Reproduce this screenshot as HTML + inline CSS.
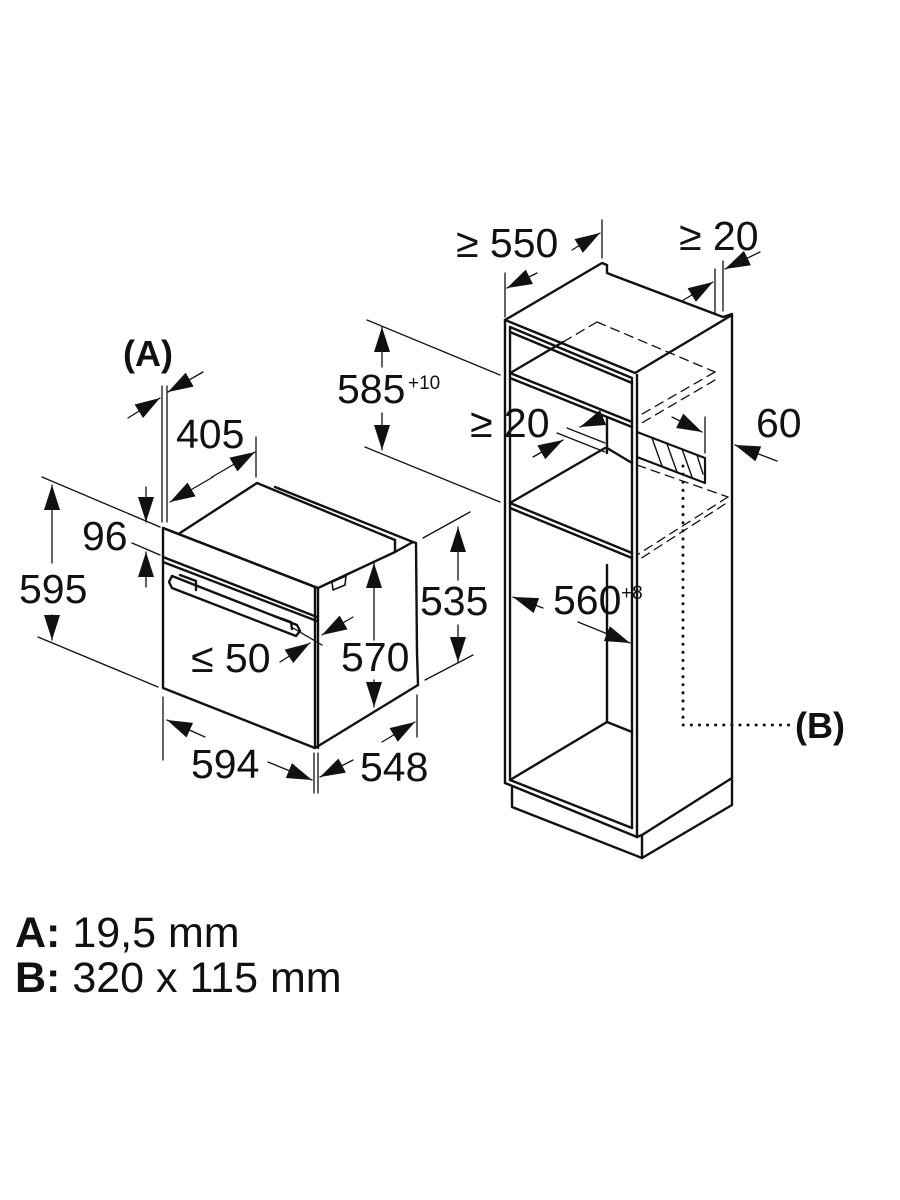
<!DOCTYPE html>
<html><head><meta charset="utf-8"><style>
html,body{margin:0;padding:0;background:#fff;}
svg{display:block;}
text{font-family:"Liberation Sans",sans-serif;fill:#111;}
</style></head><body>
<svg width="900" height="1200" viewBox="0 0 900 1200" xmlns="http://www.w3.org/2000/svg">
<defs>
<marker id="ah" markerUnits="userSpaceOnUse" markerWidth="28" markerHeight="18" refX="25" refY="8" orient="auto">
<path d="M0,0 L25,8 L0,16 Z" fill="#111"/>
</marker>
</defs>
<g stroke="#111" fill="none" stroke-linecap="round" stroke-linejoin="round">

<!-- ================= OVEN ================= -->
<g stroke-width="2.4">
<path d="M163,528 L163,688 L315,748 L315,587 Z"/>
<line x1="318" y1="588" x2="318" y2="748"/>
<line x1="163" y1="528" x2="318" y2="588"/>
<path d="M180,533 L257,483 L395,540"/>
<path d="M275,487 L413,542"/>
<path d="M395,540 L395,552 L413,542"/>
<path d="M318,588 L395,552"/>
<path d="M413,542 L416,543 L417,653 L418,685 L315,748"/>
<line x1="163" y1="557" x2="317" y2="617"/>
<line x1="163" y1="562" x2="317" y2="621"/>
<path d="M172,576 L297,625 L300,631 L296,636 L172,588 L169,582 Z"/>
<path d="M180,575 L196,581 L196,590"/>
<path d="M274,616 L291,622 L292,629"/>
<path d="M332,582 L346,576 L345,585 L333,590 Z" stroke-width="1.6"/>
</g>

<g stroke-width="1.3">
<line x1="162" y1="386" x2="162" y2="522"/>
<line x1="167" y1="386" x2="167" y2="522"/>
<line x1="203" y1="372" x2="168" y2="392" marker-end="url(#ah)"/>
<line x1="128" y1="418" x2="160" y2="398" marker-end="url(#ah)"/>
<line x1="256" y1="437" x2="256" y2="477"/>
<line x1="212" y1="477" x2="255" y2="452" marker-end="url(#ah)"/>
<line x1="213" y1="477" x2="170" y2="502" marker-end="url(#ah)"/>
<line x1="42" y1="477" x2="160" y2="527"/>
<line x1="38" y1="637" x2="158" y2="687"/>
<line x1="52" y1="563" x2="52" y2="485" marker-end="url(#ah)"/>
<line x1="52" y1="615" x2="52" y2="640" marker-end="url(#ah)"/>
<line x1="132" y1="543" x2="160" y2="555"/>
<line x1="146" y1="487" x2="146" y2="522" marker-end="url(#ah)"/>
<line x1="146" y1="587" x2="146" y2="552" marker-end="url(#ah)"/>
<line x1="293" y1="628" x2="322" y2="645"/>
<line x1="280" y1="662" x2="310" y2="643" marker-end="url(#ah)"/>
<line x1="353" y1="617" x2="322" y2="635" marker-end="url(#ah)"/>
<line x1="374" y1="640" x2="374" y2="563" marker-end="url(#ah)"/>
<line x1="374" y1="680" x2="374" y2="707" marker-end="url(#ah)"/>
<line x1="423" y1="538" x2="470" y2="512"/>
<line x1="425" y1="680" x2="473" y2="655"/>
<line x1="458" y1="580" x2="458" y2="527" marker-end="url(#ah)"/>
<line x1="458" y1="625" x2="458" y2="662" marker-end="url(#ah)"/>
<line x1="163" y1="697" x2="163" y2="760"/>
<line x1="314" y1="753" x2="314" y2="793"/>
<line x1="318" y1="753" x2="318" y2="793"/>
<line x1="205" y1="737" x2="167" y2="720" marker-end="url(#ah)"/>
<line x1="268" y1="762" x2="312" y2="780" marker-end="url(#ah)"/>
<line x1="417" y1="695" x2="417" y2="737"/>
<line x1="382" y1="742" x2="415" y2="722" marker-end="url(#ah)"/>
<line x1="353" y1="760" x2="320" y2="777" marker-end="url(#ah)"/>
<line x1="367" y1="320" x2="500" y2="375"/>
<line x1="365" y1="447" x2="500" y2="502"/>
<line x1="382" y1="367" x2="382" y2="327" marker-end="url(#ah)"/>
<line x1="382" y1="413" x2="382" y2="450" marker-end="url(#ah)"/>
</g>

<!-- ================= CABINET ================= -->
<g stroke-width="2.4">
<path d="M505,320 L602,263 L607,265 L607,273 L612,275 L723,317 L732,314"/>
<path d="M505,320 L635,373 L732,315"/>
<line x1="505" y1="320" x2="505" y2="783"/>
<line x1="510" y1="327" x2="510" y2="780"/>
<line x1="632" y1="380" x2="632" y2="828"/>
<line x1="637" y1="375" x2="637" y2="837"/>
<line x1="732" y1="315" x2="732" y2="805"/>
<line x1="510" y1="327" x2="632" y2="378"/>
<line x1="510" y1="332" x2="632" y2="383"/>
<line x1="512" y1="372" x2="563" y2="342"/>
<line x1="510" y1="373" x2="632" y2="422"/>
<line x1="510" y1="378" x2="632" y2="427"/>
<line x1="607" y1="417" x2="607" y2="453"/>
<line x1="607" y1="448" x2="632" y2="463"/>
<line x1="510" y1="503" x2="605" y2="448"/>
<line x1="510" y1="503" x2="632" y2="553"/>
<line x1="510" y1="508" x2="632" y2="558"/>
<line x1="607" y1="565" x2="607" y2="722"/>
<line x1="510" y1="780" x2="607" y2="722"/>
<line x1="607" y1="722" x2="632" y2="732"/>
<line x1="505" y1="783" x2="637" y2="837"/>
<line x1="510" y1="780" x2="632" y2="828"/>
<path d="M512,788 L512,807 L642,858 L732,805"/>
<path d="M642,835 L642,858"/>
<path d="M637,837 L642,835 L732,778"/>
<path d="M637,432 L705,458 L705,483 L637,457" stroke-width="2.2"/>
</g>
<g stroke-width="1.4">
<line x1="652" y1="438" x2="662" y2="466"/>
<line x1="667" y1="444" x2="677" y2="472"/>
<line x1="682" y1="449" x2="692" y2="477"/>
<line x1="697" y1="455" x2="703" y2="474"/>
</g>
<g stroke-width="1.3" stroke-dasharray="9,6">
<line x1="597" y1="322" x2="715" y2="372"/>
<line x1="597" y1="322" x2="563" y2="342"/>
<line x1="715" y1="372" x2="637" y2="417"/>
<line x1="715" y1="380" x2="640" y2="424"/>
<line x1="637" y1="465" x2="728" y2="497"/>
<line x1="728" y1="497" x2="637" y2="555"/>
<line x1="725" y1="504" x2="640" y2="559"/>
</g>
<path d="M683,466 L683,725 L792,725" stroke-width="3" stroke-dasharray="0.1,8"/>

<g stroke-width="1.3">
<line x1="505" y1="273" x2="505" y2="317"/>
<line x1="602" y1="220" x2="602" y2="258"/>
<line x1="537" y1="273" x2="507" y2="288" marker-end="url(#ah)"/>
<line x1="572" y1="250" x2="600" y2="233" marker-end="url(#ah)"/>
<line x1="715" y1="269" x2="715" y2="313"/>
<line x1="723" y1="261" x2="723" y2="311"/>
<line x1="682" y1="301" x2="713" y2="282" marker-end="url(#ah)"/>
<line x1="760" y1="252" x2="725" y2="269" marker-end="url(#ah)"/>
<line x1="567" y1="428" x2="605" y2="443"/>
<line x1="557" y1="433" x2="605" y2="452"/>
<line x1="602" y1="418" x2="580" y2="427" marker-end="url(#ah)"/>
<line x1="533" y1="457" x2="563" y2="440" marker-end="url(#ah)"/>
<line x1="705" y1="417" x2="705" y2="453"/>
<line x1="672" y1="417" x2="702" y2="432" marker-end="url(#ah)"/>
<line x1="777" y1="461" x2="735" y2="445" marker-end="url(#ah)"/>
<line x1="543" y1="608" x2="513" y2="597" marker-end="url(#ah)"/>
<line x1="578" y1="622" x2="630" y2="643" marker-end="url(#ah)"/>
</g>
</g>

<g font-size="41">
<text x="123" y="366" font-weight="bold" font-size="36">(A)</text>
<text x="176" y="448">405</text>
<text x="82" y="550">96</text>
<text x="19" y="603">595</text>
<text x="191" y="672">≤ 50</text>
<text x="341" y="671">570</text>
<text x="420" y="615">535</text>
<text x="191" y="778">594</text>
<text x="360" y="781">548</text>
<text x="337" y="403">585</text>
<text x="408" y="389" font-size="19">+10</text>
<text x="456" y="257">≥ 550</text>
<text x="679" y="250">≥ 20</text>
<text x="470" y="437">≥ 20</text>
<text x="756" y="437">60</text>
<text x="553" y="614">560</text>
<text x="621" y="599" font-size="19">+8</text>
<text x="795" y="738" font-weight="bold" font-size="36">(B)</text>
<text x="15" y="947" font-size="43"><tspan font-weight="bold">A:</tspan> 19,5 mm</text>
<text x="15" y="992" font-size="43"><tspan font-weight="bold">B:</tspan> 320 x 115 mm</text>
</g>
</svg>
</body></html>
